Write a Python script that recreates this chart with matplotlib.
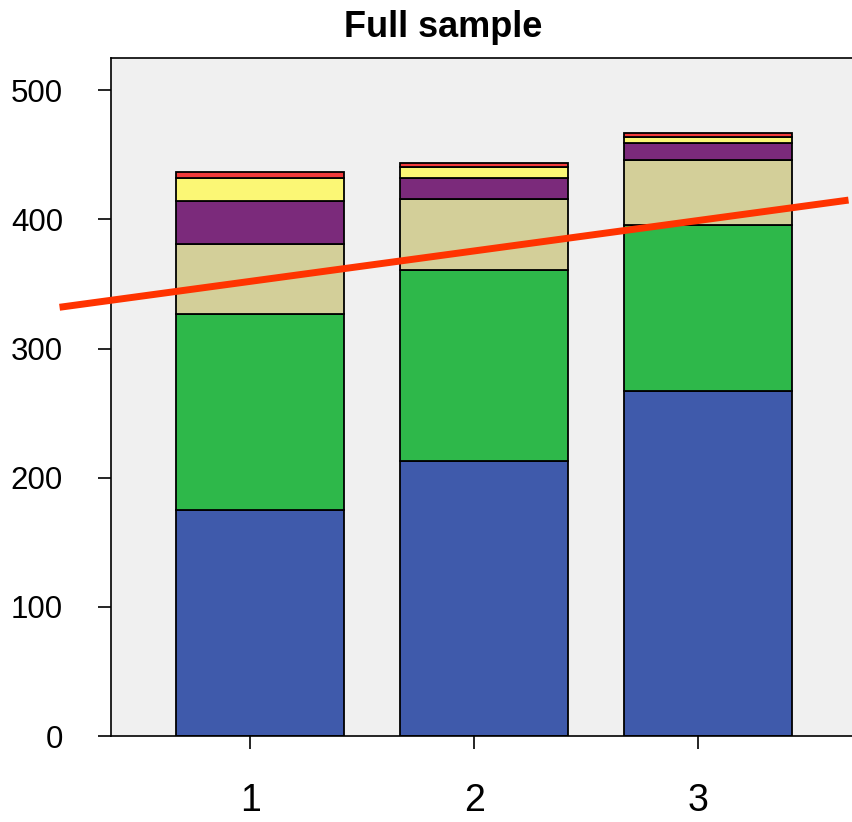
import matplotlib
matplotlib.use('Agg')
import matplotlib.pyplot as plt
import numpy as np

plt.rcParams['font.family'] = ['Liberation Sans', 'DejaVu Sans']

# data
groups = [1, 2, 3]
blue = [175, 213, 267]
green = [152, 148, 129]
tan = [54, 55, 50]
purple = [33, 16, 13]
yellow = [18, 9, 4.5]
red = [5, 3, 3.5]
# trend line ends
trend_x = [0.15, 3.67]
trend_y = [332, 415]

series = [blue, green, tan, purple, yellow, red]
colors = ['#3F5AAB', '#2EB84A', '#D3CF99', '#7B2A7B', '#FBF775', '#F03A3A']

fig = plt.figure(figsize=(8.53, 8.22), dpi=100)
ax = fig.add_axes([0.130, 0.1046, 0.870, 0.8248])
ax.set_facecolor('#F0F0F0')

xpos = np.array(groups) + 0.045
bottom = np.zeros(3)
for vals, c in zip(series, colors):
    ax.bar(xpos, vals, width=0.75, bottom=bottom, color=c,
           edgecolor='black', linewidth=1.3, zorder=2)
    bottom += np.array(vals)

ax.plot(trend_x, trend_y, color='#FF3300', linewidth=5, clip_on=False,
        solid_capstyle='butt', zorder=5)

ax.set_xlim(0.379, 3.69)
ax.set_ylim(0, 525)
ax.set_xticks(groups)
ax.set_yticks([0, 100, 200, 300, 400, 500])
ax.tick_params(axis='y', direction='out', length=9.5, width=1.2,
               labelsize=22.5, pad=25)
ax.tick_params(axis='x', direction='out', length=9.5, width=1.2,
               labelsize=27, pad=24)
ax.spines['right'].set_visible(False)
for s in ['left', 'top', 'bottom']:
    ax.spines[s].set_linewidth(1.2)

ax.set_title('Full sample', fontsize=26, fontweight='bold', pad=15, x=0.448)

fig.savefig('out.png', dpi=100)
